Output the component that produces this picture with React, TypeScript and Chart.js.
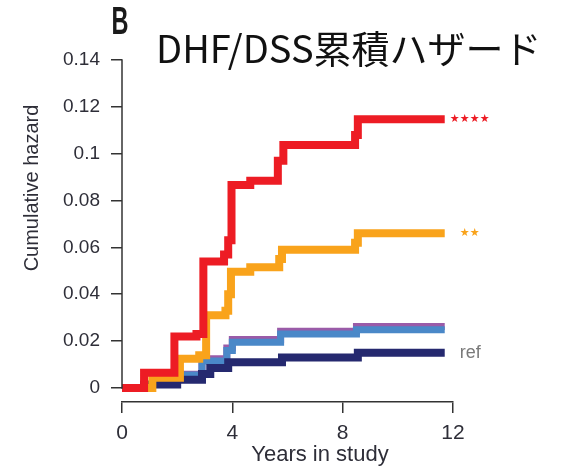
import React, { useEffect, useRef } from 'react';
import { Chart, registerables } from 'chart.js';

Chart.register(...registerables);

// ---- data ----
const redT = [0, 0.8, 1.9, 2.7, 2.95, 3.7, 3.85, 3.97, 4.65, 5.65, 5.85, 8.45, 8.55, 11.7];
const redV = [0, 0.0065, 0.022, 0.023, 0.054, 0.057, 0.063, 0.0866, 0.0885, 0.097, 0.1037, 0.108, 0.1147, 0.1147];

const orangeT = [0, 1.1, 2.1, 2.8, 3.05, 3.75, 3.85, 3.95, 4.65, 5.7, 5.8, 8.45, 8.55, 11.7];
const orangeV = [0, 0.0043, 0.0125, 0.014, 0.031, 0.033, 0.04, 0.0496, 0.0515, 0.055, 0.059, 0.062, 0.066, 0.066];

const blueT = [0, 0.8, 1.9, 2.9, 3.8, 4.0, 5.75, 8.5, 11.7];
const blueV = [0, 0.0015, 0.0055, 0.0115, 0.016, 0.0195, 0.023, 0.0248, 0.0248];

const purpleT = [0, 0.8, 1.9, 2.9, 3.8, 4.0, 5.75, 8.5, 11.7];
const purpleV = [0, 0.0015, 0.0058, 0.0125, 0.017, 0.0207, 0.0242, 0.0262, 0.0262];

const navyT = [0, 0.8, 2.0, 2.9, 3.2, 3.85, 5.8, 8.55, 11.7];
const navyV = [0, 0.0015, 0.0035, 0.006, 0.0085, 0.011, 0.013, 0.015, 0.015];

const xTicks = [0, 4, 8, 12];
const xTickLabels = ['0', '4', '8', '12'];
const yTicks = [0, 0.02, 0.04, 0.06, 0.08, 0.1, 0.12, 0.14];
const yTickLabels = ['0', '0.02', '0.04', '0.06', '0.08', '0.1', '0.12', '0.14'];

const chartTitle = 'DHF/DSS累積ハザード';
const panelLabel = 'B';
const xTitle = 'Years in study';
const yTitle = 'Cumulative hazard';
const redMark = '★★★★';
const orangeMark = '★★';
const refMark = 'ref';

// ---- styles ----
const RED = '#ED1C24';
const ORANGE = '#F9A31B';
const BLUE = '#4A88C8';
const PURPLE = '#9A5BA8';
const NAVY = '#25296F';
const AXIS = '#333333';
const TEXT = '#2e2e38';
const SANS = '"Liberation Sans", Arial, sans-serif';

const pts = (t: number[], v: number[]) => t.map((x, i) => ({ x, y: v[i] }));

const overlay = {
  id: 'overlay',
  afterDraw(chart: any) {
    const { ctx, chartArea, scales } = chart;
    const xs = scales.x;
    const ys = scales.y;
    ctx.save();

    // y axis line (only from 0 to top tick)
    ctx.strokeStyle = AXIS;
    ctx.lineWidth = 1.5;
    ctx.beginPath();
    ctx.moveTo(chartArea.left, ys.getPixelForValue(yTicks[yTicks.length - 1]) - 0.75);
    ctx.lineTo(chartArea.left, ys.getPixelForValue(0) + 0.75);
    ctx.stroke();

    // axis titles
    ctx.fillStyle = TEXT;
    ctx.textAlign = 'center';
    ctx.textBaseline = 'middle';
    ctx.font = `20px ${SANS}`;
    ctx.save();
    ctx.translate(32, 188);
    ctx.rotate(-Math.PI / 2);
    ctx.fillText(yTitle, 0, 0);
    ctx.restore();

    ctx.font = `22px ${SANS}`;
    ctx.fillText(xTitle, 320, 455);

    // panel label
    ctx.save();
    ctx.fillStyle = '#1a1a1a';
    ctx.translate(120, 24);
    ctx.scale(0.62, 1);
    ctx.font = `bold 38px ${SANS}`;
    ctx.fillText(panelLabel, 0, 0);
    ctx.restore();

    // main title
    ctx.fillStyle = '#111111';
    ctx.textAlign = 'left';
    ctx.font = '38px "Noto Sans CJK JP"';
    ctx.fillText(chartTitle, 156, 49);

    // end-of-curve marks
    const endX = xs.getPixelForValue(redT[redT.length - 1]);
    ctx.textAlign = 'center';
    ctx.font = '11px "DejaVu Sans"';
    ctx.fillStyle = RED;
    [...redMark].forEach((ch, i) => {
      ctx.fillText(ch, endX + 10 + i * 10, ys.getPixelForValue(redV[redV.length - 1]));
    });
    ctx.fillStyle = ORANGE;
    [...orangeMark].forEach((ch, i) => {
      ctx.fillText(ch, endX + 20 + i * 10, ys.getPixelForValue(orangeV[orangeV.length - 1]));
    });
    ctx.fillStyle = '#7a7a7a';
    ctx.textAlign = 'left';
    ctx.font = `18px ${SANS}`;
    ctx.fillText(refMark, endX + 15, ys.getPixelForValue(navyV[navyV.length - 1]));

    ctx.restore();
  },
};

export default function App() {
  const ref = useRef<HTMLCanvasElement>(null);

  useEffect(() => {
    if (!ref.current) return;
    const ds = (label: string, t: number[], v: number[], color: string, w: number) => ({
      label,
      data: pts(t, v),
      borderColor: color,
      backgroundColor: color,
      borderWidth: w,
      pointRadius: 0,
      stepped: 'before' as const,
      borderCapStyle: 'butt' as const,
      borderJoinStyle: 'miter' as const,
      fill: false,
    });
    const chart = new Chart(ref.current, {
      type: 'line',
      data: {
        datasets: [
          ds('red', redT, redV, RED, 8),
          ds('orange', orangeT, orangeV, ORANGE, 8),
          ds('navy', navyT, navyV, NAVY, 8),
          ds('blue', blueT, blueV, BLUE, 7),
          ds('purple', purpleT, purpleV, PURPLE, 7),
        ],
      },
      options: {
        responsive: false,
        animation: false,
        layout: { padding: { top: 60, right: 110, left: 0, bottom: 0 } },
        plugins: { legend: { display: false }, tooltip: { enabled: false }, title: { display: false } },
        scales: {
          x: {
            type: 'linear',
            min: 0,
            max: 12,
            afterFit: (s: any) => {
              s.height = 67;
            },
            afterBuildTicks: (s: any) => {
              s.ticks = xTicks.map((value) => ({ value }));
            },
            ticks: {
              callback: (_v: any, i: number) => xTickLabels[i],
              font: { family: SANS, size: 21 },
              color: TEXT,
              padding: 8,
              maxRotation: 0,
            },
            grid: { drawOnChartArea: false, drawTicks: true, tickLength: 11, color: AXIS, lineWidth: 1.5 },
            border: { display: true, color: AXIS, width: 1.5 },
          },
          y: {
            type: 'linear',
            min: -0.006,
            max: 0.14,
            afterFit: (s: any) => {
              s.width = 122;
            },
            afterBuildTicks: (s: any) => {
              s.ticks = yTicks.map((value) => ({ value }));
            },
            ticks: {
              callback: (_v: any, i: number) => yTickLabels[i],
              font: { family: SANS, size: 19 },
              color: TEXT,
              padding: 11,
            },
            grid: { drawOnChartArea: false, drawTicks: true, tickLength: 11, color: AXIS, lineWidth: 1.5 },
            border: { display: false },
          },
        },
      },
      plugins: [overlay],
    });
    return () => chart.destroy();
  }, []);

  return (
    <div style={{ position: 'absolute', left: 0, top: 0, width: 563, height: 469, background: '#fff' }}>
      <canvas ref={ref} width={563} height={469} style={{ display: 'block' }} />
    </div>
  );
}
